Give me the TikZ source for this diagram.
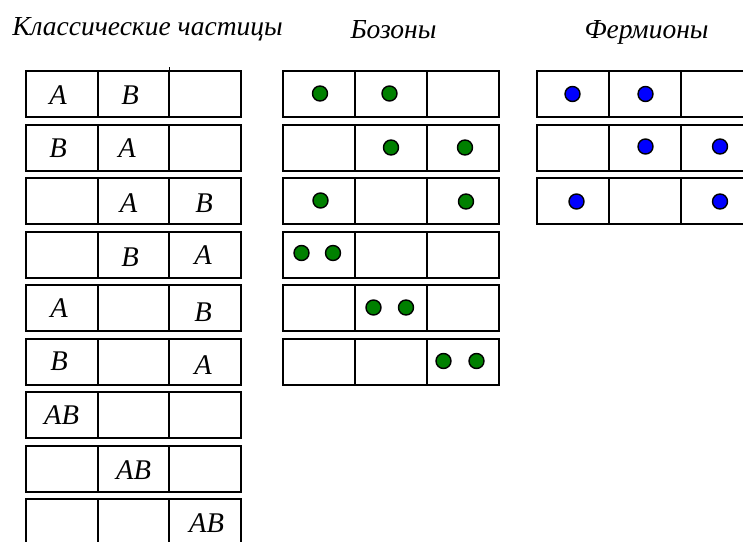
\documentclass[tikz,border=0pt]{standalone}
\usepackage{fontspec}
\setmainfont{Liberation Serif}
\definecolor{bosongreen}{RGB}{0,128,0}
\definecolor{fermionblue}{RGB}{0,0,255}
\begin{document}
\begin{tikzpicture}[x=1pt,y=-1pt,
  cell/.style={draw=black, line width=2pt, minimum width=72pt, minimum height=46pt, inner sep=0pt, outer sep=0pt},
  letter/.style={font=\fontsize{28.5}{30}\selectfont\itshape, inner sep=0pt},
  heading/.style={font=\fontsize{27.5}{30}\selectfont\itshape, inner sep=0pt, anchor=base},
  dot/.style={circle, draw=black, line width=1.4pt, minimum size=15pt, inner sep=0pt},
  boson/.style={dot, fill=bosongreen},
  fermion/.style={dot, fill=fermionblue}]
\useasboundingbox (0,0) rectangle (743,541);
\clip (0,0) rectangle (743,541);

% headings
\node[heading] (tcl) at (147.5,35) {Классические частицы};
\node[heading] (tbo) at (393.5,38) {Бозоны};
\node[heading] (tfe) at (646.5,38) {Фермионы};

% classical grid
\foreach \r in {1,...,9}{
  \pgfmathsetmacro\yy{94+53.5*(\r-1)}
  \foreach \c in {1,2,3}{
    \node[cell, minimum width=71.5pt] (cl\r\c) at ({61.75+71.5*(\c-1)},\yy) {};
  }
}
\draw[line width=1pt] (cl12.north east) -- ++(0,-4);

% boson grid
\foreach \r in {1,...,6}{
  \pgfmathsetmacro\yy{94+53.5*(\r-1)}
  \foreach \c in {1,2,3}{
    \node[cell] (bo\r\c) at ({319+72*(\c-1)},\yy) {};
  }
}

% fermion grid
\foreach \r in {1,...,3}{
  \pgfmathsetmacro\yy{94+53.5*(\r-1)}
  \foreach \c in {1,2,3}{
    \node[cell] (fe\r\c) at ({573+72*(\c-1)},\yy) {};
  }
}

% classical letters
\node[letter] (l1a) at (58,95) {A};
\node[letter] (l1b) at (130,95) {B};
\node[letter] (l2b) at (58,148.5) {B};
\node[letter] (l2a) at (127,148.5) {A};
\node[letter] (l3a) at (128.5,203) {A};
\node[letter] (l3b) at (204,203) {B};
\node[letter] (l4b) at (130,257) {B};
\node[letter] (l4a) at (203,255.5) {A};
\node[letter] (l5a) at (59,308.5) {A};
\node[letter] (l5b) at (203,312.5) {B};
\node[letter] (l6b) at (59,361.5) {B};
\node[letter] (l6a) at (203,365.5) {A};
\node[letter] (l7) at (61.5,415) {AB};
\node[letter] (l8) at (133.5,470) {AB};
\node[letter] (l9) at (206.5,523) {AB};

% boson dots
\node[boson] (b1a) at (320,93.5) {};
\node[boson] (b1b) at (389.5,93.5) {};
\node[boson] (b2a) at (391,147.5) {};
\node[boson] (b2b) at (465,147.5) {};
\node[boson] (b3a) at (320.5,200.5) {};
\node[boson] (b3b) at (466,201.5) {};
\node[boson] (b4a) at (301.5,253) {};
\node[boson] (b4b) at (333,253) {};
\node[boson] (b5a) at (373.5,307.5) {};
\node[boson] (b5b) at (406,307.5) {};
\node[boson] (b6a) at (443.5,361) {};
\node[boson] (b6b) at (476.5,361) {};

% fermion dots
\node[fermion] (f1a) at (572.5,94) {};
\node[fermion] (f1b) at (645.5,94) {};
\node[fermion] (f2a) at (645.5,146.5) {};
\node[fermion] (f2b) at (720,146.5) {};
\node[fermion] (f3a) at (576.5,201.5) {};
\node[fermion] (f3b) at (720,201.5) {};
\end{tikzpicture}
\end{document}
